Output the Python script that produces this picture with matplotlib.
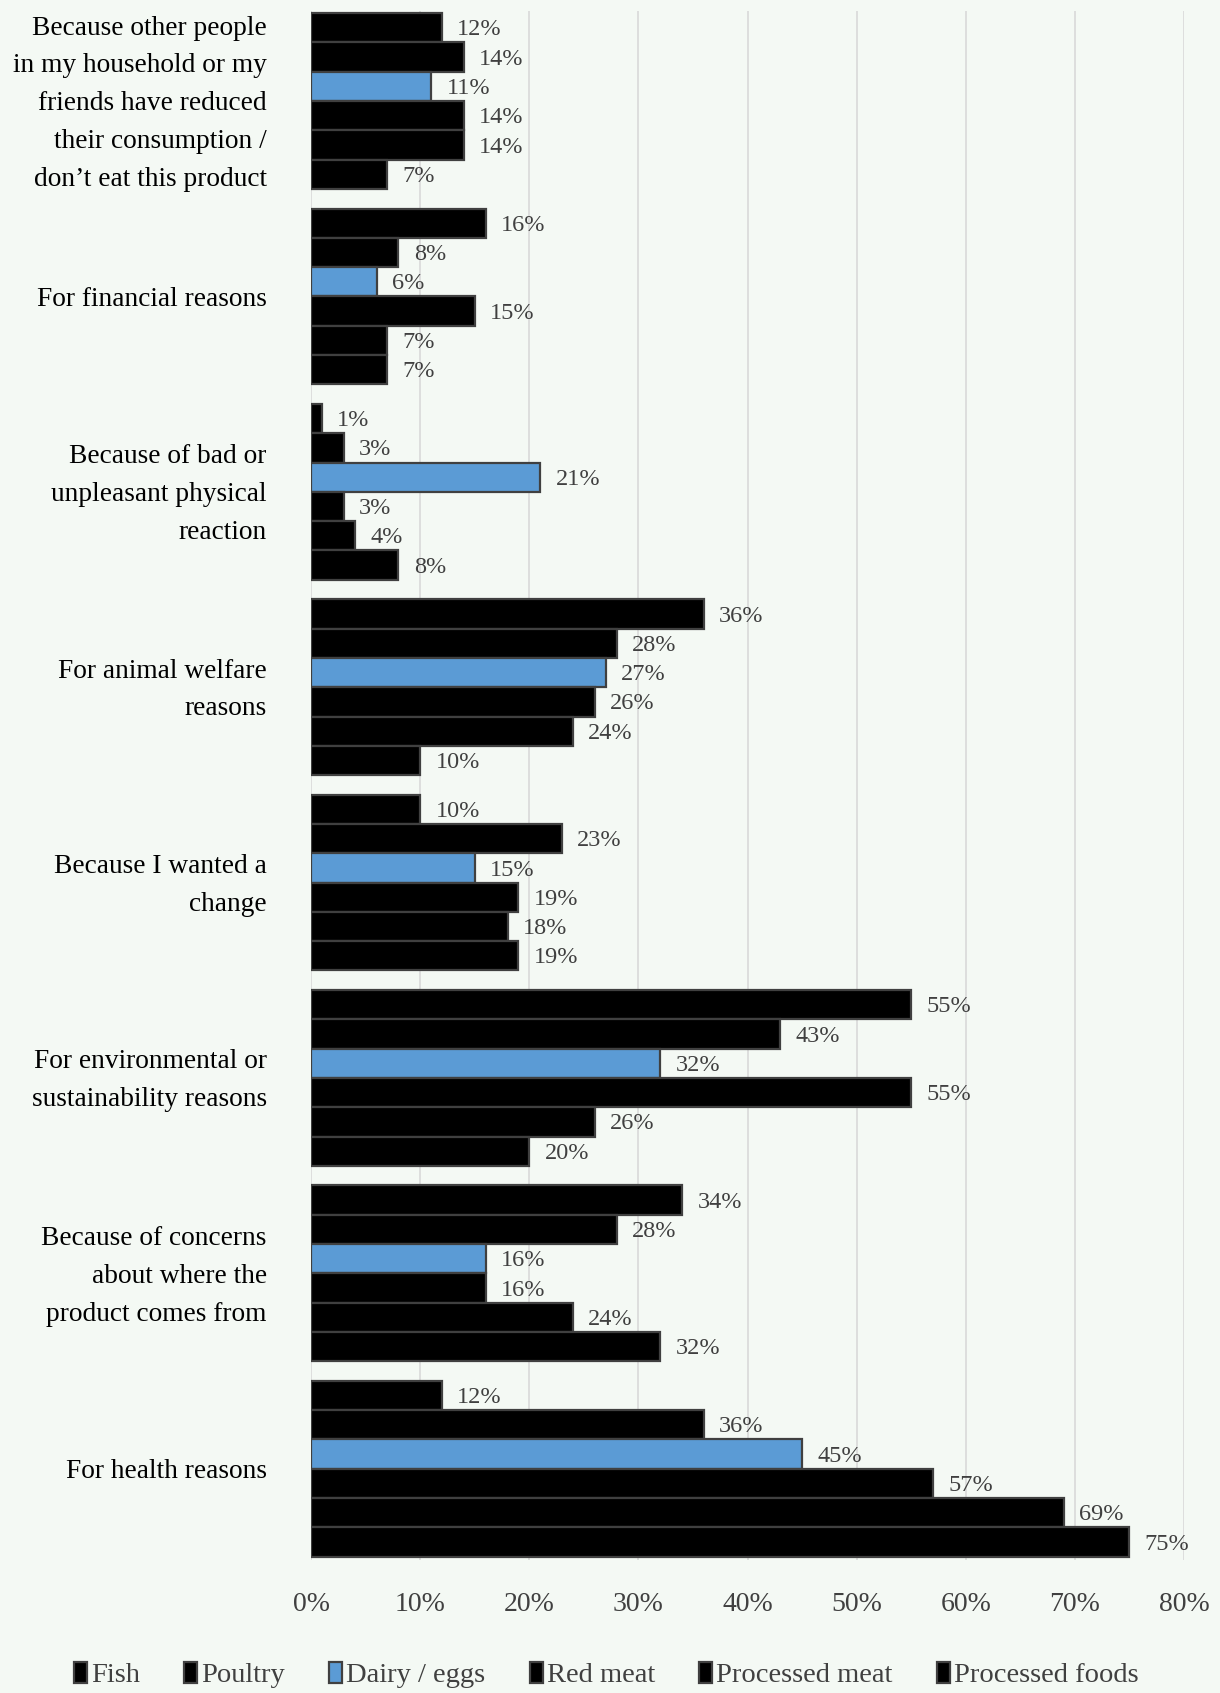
import matplotlib
matplotlib.use("Agg")
import matplotlib.pyplot as plt
import numpy as np

plt.rcParams["font.family"] = ["Liberation Serif", "DejaVu Serif"]

reasons = [
    "Because other people\nin my household or my\nfriends have reduced\ntheir consumption /\ndon\u2019t eat this product",
    "For financial reasons",
    "Because of bad or\nunpleasant physical\nreaction",
    "For animal welfare\nreasons",
    "Because I wanted a\nchange",
    "For environmental or\nsustainability reasons",
    "Because of concerns\nabout where the\nproduct comes from",
    "For health reasons",
]
products = ["Fish", "Poultry", "Dairy / eggs", "Red meat", "Processed meat", "Processed foods"]

# percent of respondents, one list per product, in the order of `reasons`
fish = [12, 16, 1, 36, 10, 55, 34, 12]
poultry = [14, 8, 3, 28, 23, 43, 28, 36]
dairy_eggs = [11, 6, 21, 27, 15, 32, 16, 45]
red_meat = [14, 15, 3, 26, 19, 55, 16, 57]
processed_meat = [14, 7, 4, 24, 18, 26, 24, 69]
processed_foods = [7, 7, 8, 10, 19, 20, 32, 75]
series = [fish, poultry, dairy_eggs, red_meat, processed_meat, processed_foods]

xticks = [0, 10, 20, 30, 40, 50, 60, 70, 80]

BG = "#f4f9f4"
colors = ["#000000", "#000000", "#5b9bd5", "#000000", "#000000", "#000000"]
TXT = "#404040"

fig = plt.figure(figsize=(12.2, 16.93), dpi=100, facecolor=BG)
ax = fig.add_axes([0.255, 0.0786, 0.7155, 0.915], facecolor=BG)

h = 0.15
y0 = np.arange(len(reasons))
for k, (vals, name, col) in enumerate(zip(series, products, colors)):
    y = y0 - 0.45 + h / 2 + k * h
    bars = ax.barh(y, np.array(vals) / 100, height=h, color=col,
                   edgecolor="#404040", linewidth=1.6, label=name, zorder=3)
    for b, v in zip(bars, vals):
        ax.annotate(f"{v}%", (b.get_width(), b.get_y() + b.get_height() / 2),
                    xytext=(11, -1.5), textcoords="offset points", va="center",
                    ha="left", fontsize=17.5, color=TXT)

ax.set_xlim(0, 0.8)
ax.set_ylim(7.467, -0.462)
ax.set_xticks([t / 100 for t in xticks])
ax.set_xticklabels([f"{t}%" for t in xticks], fontsize=20, color=TXT)
ax.tick_params(axis="x", length=0, pad=23)
ax.set_yticks([])
ax.grid(axis="x", color="#d9d9d9", linewidth=1.2, zorder=0)
for s in ax.spines.values():
    s.set_visible(False)

# reason labels, wrapped by hand, to the left of each group
for i, lab in enumerate(reasons):
    ax.annotate(lab, (0, i), xytext=(-32, -2), textcoords="offset points",
                ha="right", va="center", multialignment="right",
                fontsize=19.7, color="black", linespacing=1.68,
                annotation_clip=False)

handles, labels = ax.get_legend_handles_labels()
leg = fig.legend(handles, labels, loc="center", bbox_to_anchor=(0.497, 0.0106),
                 ncol=6, frameon=False, fontsize=20.5, handlelength=0.45,
                 handleheight=0.75, handletextpad=0.15, columnspacing=1.55)
for t in leg.get_texts():
    t.set_color(TXT)

fig.savefig("out.png", dpi=100, facecolor=BG)
